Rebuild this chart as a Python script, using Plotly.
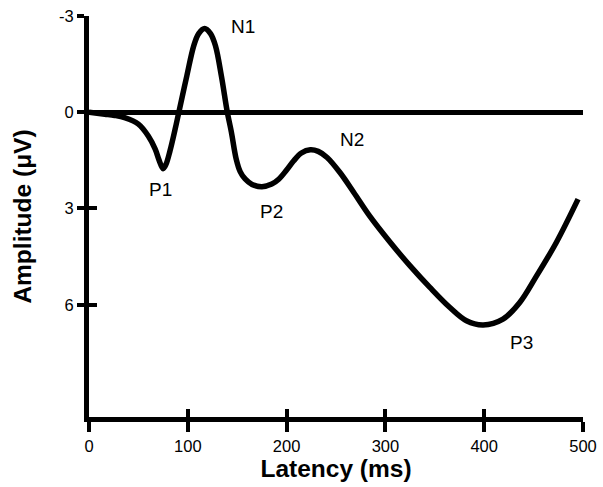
import plotly.graph_objects as go

# Waveform samples (latency ms, amplitude µV; positive plotted downward)
latency = [0, 16, 26, 36, 50, 60, 67, 71, 75, 78, 82, 87, 92, 99, 106, 111, 117, 123, 128,
           134, 140, 144, 149, 153, 158, 165, 175, 185, 192, 200, 207, 215, 224, 232, 241,
           254, 268, 284, 305, 325, 345, 365, 382, 399, 419, 436, 453, 473, 495]
amplitude = [0, 0.06, 0.1, 0.17, 0.37, 0.74, 1.15, 1.5, 1.76, 1.62, 1.2, 0.55, -0.15, -1.13,
             -2.07, -2.45, -2.61, -2.45, -2.07, -1.13, 0.0, 0.6, 1.46, 1.85, 2.08, 2.25, 2.32,
             2.24, 2.09, 1.8, 1.52, 1.27, 1.17, 1.22, 1.41, 1.88, 2.50, 3.23, 4.06, 4.79, 5.46,
             6.08, 6.50, 6.63, 6.45, 5.93, 5.10, 4.06, 2.71]

peak_names = ["N1", "P1", "P2", "N2", "P3"]
peak_x = [156, 72, 185, 266, 438]
peak_y = [-2.68, 2.4, 3.08, 0.84, 7.17]

x_ticks = [0, 100, 200, 300, 400, 500]
x_labels = ["0", "100", "200", "300", "400", "500"]
y_ticks = [-3, 0, 3, 6]
y_labels = ["-3", "0", "3", "6"]

FONT = "Liberation Sans, Arial, sans-serif"

fig = go.Figure()
fig.add_trace(go.Scatter(x=latency, y=amplitude, mode="lines",
                         line=dict(color="black", width=5.5, shape="spline", smoothing=1.0),
                         hoverinfo="skip", showlegend=False))

for name, px_, py_ in zip(peak_names, peak_x, peak_y):
    fig.add_annotation(x=px_, y=py_, text=name, showarrow=False,
                       font=dict(family=FONT, size=19, color="black"))

tickfont = dict(family=FONT, size=16.5, color="black")
titlefont = dict(family=FONT, size=24.5, color="black")

fig.update_layout(
    width=603, height=487,
    margin=dict(l=89, r=20, t=16, b=70),
    paper_bgcolor="white", plot_bgcolor="white",
    xaxis=dict(range=[0, 500], tickvals=x_ticks, ticktext=x_labels, ticks="outside",
               ticklen=10, tickwidth=3.5, tickcolor="black",
               showline=True, linecolor="black", linewidth=4.5,
               showgrid=False, zeroline=False, automargin=False, tickfont=tickfont,
               title=dict(text="<b>Latency (ms)</b>", font=titlefont, standoff=4)),
    yaxis=dict(range=[9.5, -3], tickvals=y_ticks, ticktext=y_labels, ticks="outside",
               ticklen=7, tickwidth=3.5, tickcolor="black",
               showline=True, linecolor="black", linewidth=5,
               showgrid=False, zeroline=True, zerolinecolor="black", zerolinewidth=5,
               automargin=False, tickfont=tickfont,
               title=dict(text="<b>Amplitude (μV)</b>", font=titlefont, standoff=22)),
    xaxis2=dict(overlaying="x", anchor="y", side="bottom", range=[0, 500],
                tickvals=x_ticks, ticks="inside", showticklabels=False, showgrid=False,
                zeroline=False, showline=False, tickwidth=3.5, ticklen=8, tickcolor="black",
                automargin=False),
    yaxis2=dict(overlaying="y", anchor="x", side="left", range=[9.5, -3],
                tickvals=y_ticks, ticks="inside", showticklabels=False, showgrid=False,
                zeroline=False, showline=False, tickwidth=3.5, ticklen=8, tickcolor="black",
                automargin=False),
)
# invisible trace to activate the secondary tick axes
fig.add_trace(go.Scatter(x=[0], y=[0], xaxis="x2", yaxis="y2", mode="markers",
                         marker=dict(opacity=0), hoverinfo="skip", showlegend=False))

fig.write_html("out.html", config={"displayModeBar": False},
               post_script="document.body.style.margin='0';document.body.style.overflow='hidden';")
